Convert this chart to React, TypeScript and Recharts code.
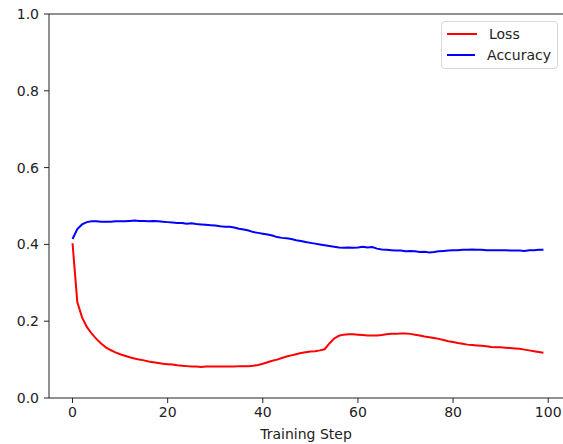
import { LineChart, Line, XAxis, YAxis, ReferenceLine } from "recharts";

const steps = Array.from({ length: 100 }, (_, i) => i);

const loss = [
  0.403, 0.25, 0.21, 0.185, 0.168, 0.154, 0.142, 0.132, 0.125, 0.119,
  0.114, 0.11, 0.106, 0.103, 0.1, 0.098, 0.095, 0.093, 0.091, 0.089,
  0.088, 0.087, 0.085, 0.084, 0.083, 0.082, 0.082, 0.081, 0.082, 0.082,
  0.082, 0.082, 0.082, 0.082, 0.082, 0.083, 0.083, 0.083, 0.084, 0.086,
  0.089, 0.093, 0.097, 0.1, 0.104, 0.108, 0.111, 0.114, 0.117, 0.119,
  0.121, 0.122, 0.124, 0.127, 0.142, 0.155, 0.162, 0.165, 0.166, 0.166,
  0.165, 0.164, 0.163, 0.163, 0.163, 0.164, 0.166, 0.167, 0.167, 0.168,
  0.168, 0.167, 0.165, 0.163, 0.16, 0.158, 0.156, 0.154, 0.151, 0.148,
  0.146, 0.143, 0.141, 0.139, 0.138, 0.137, 0.136, 0.135, 0.133, 0.132,
  0.132, 0.131, 0.13, 0.129, 0.128, 0.126, 0.124, 0.122, 0.12, 0.118,
];

const accuracy = [
  0.414, 0.44, 0.452, 0.458, 0.46, 0.46, 0.459, 0.459, 0.459, 0.46,
  0.46, 0.46, 0.461, 0.462, 0.461, 0.461, 0.46, 0.461, 0.46, 0.459,
  0.458, 0.457, 0.456, 0.456, 0.454, 0.455, 0.453, 0.452, 0.451, 0.45,
  0.449, 0.447, 0.446, 0.446, 0.444, 0.441, 0.439, 0.436, 0.432, 0.43,
  0.428, 0.426, 0.423, 0.419, 0.417, 0.416, 0.414, 0.411, 0.409, 0.406,
  0.404, 0.402, 0.4, 0.398, 0.396, 0.394, 0.392, 0.391, 0.392, 0.391,
  0.392, 0.394, 0.392, 0.393, 0.389, 0.387, 0.386, 0.385, 0.384, 0.384,
  0.382, 0.383, 0.382, 0.38, 0.381, 0.379, 0.38, 0.382, 0.383, 0.384,
  0.385, 0.385, 0.386, 0.386, 0.387, 0.386, 0.386, 0.385, 0.385, 0.385,
  0.385, 0.385, 0.384, 0.384, 0.384, 0.383, 0.385, 0.385, 0.386, 0.386,
];

const xTicks = [0, 20, 40, 60, 80, 100];
const yTicks = [0, 0.2, 0.4, 0.6, 0.8, 1.0];

const series = [
  { key: "loss", name: "Loss", color: "#ff0000" },
  { key: "accuracy", name: "Accuracy", color: "#0000ff" },
];

const data = steps.map((s, i) => ({ step: s, loss: loss[i], accuracy: accuracy[i] }));

const font = "'DejaVu Sans', sans-serif";
const axisColor = "#222";

// matplotlib-like legend box, placed over the upper right of the plot
function LegendBox() {
  return (
    <div
      style={{
        position: "absolute",
        left: 441,
        top: 21,
        width: 117,
        height: 48,
        boxSizing: "border-box",
        border: "1px solid #d8d8d8",
        borderRadius: 4,
        background: "rgba(255,255,255,0.8)",
        padding: "2px 6px 3px 5px",
        fontFamily: font,
        fontSize: 14,
        color: "#222",
        lineHeight: "20.5px",
      }}
    >
      {series.map((s) => (
        <div key={s.key} style={{ display: "flex", alignItems: "center" }}>
          <span style={{ width: 30, height: 2, background: s.color, marginRight: 12 }} />
          <span>{s.name}</span>
        </div>
      ))}
    </div>
  );
}

export default function App() {
  return (
    <div
      style={{
        position: "fixed",
        left: 0,
        top: 0,
        width: 563,
        height: 444,
        overflow: "hidden",
        background: "#fff",
      }}
    >
      <LineChart
        width={570}
        height={444}
        data={data}
        margin={{ top: 14, right: 3, left: 0, bottom: 0 }}
      >
        <XAxis
          dataKey="step"
          type="number"
          domain={[-4.95, 103.95]}
          ticks={xTicks}
          allowDataOverflow
          height={46}
          stroke={axisColor}
          tickSize={5}
          tickMargin={4}
          tick={{ fill: axisColor, fontSize: 14, fontFamily: font }}
          label={{
            value: "Training Step",
            position: "insideBottom",
            offset: 5,
            dx: -2,
            fill: axisColor,
            fontSize: 14,
            fontFamily: font,
          }}
        />
        <YAxis
          type="number"
          domain={[0, 1]}
          ticks={yTicks}
          width={49}
          stroke={axisColor}
          tickSize={5}
          tickMargin={5}
          tickFormatter={(v: number) => v.toFixed(1)}
          tick={{ fill: axisColor, fontSize: 14, fontFamily: font }}
        />
        <ReferenceLine y={1} stroke={axisColor} strokeWidth={1} />
        {series.map((s) => (
          <Line
            key={s.key}
            dataKey={s.key}
            name={s.name}
            stroke={s.color}
            strokeWidth={2}
            dot={false}
            isAnimationActive={false}
          />
        ))}
      </LineChart>
      <LegendBox />
    </div>
  );
}
